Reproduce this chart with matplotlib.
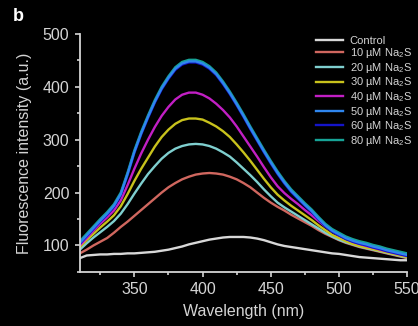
import matplotlib
matplotlib.use("Agg")
import matplotlib.pyplot as plt
from matplotlib.ticker import MultipleLocator

plt.rcParams['font.family'] = ['Liberation Sans', 'DejaVu Sans']
plt.rcParams['mathtext.fontset'] = 'custom'
plt.rcParams['mathtext.rm'] = 'Liberation Sans'
plt.rcParams['mathtext.it'] = 'Liberation Sans'

# 310 .. 550 nm in 5 nm steps
wavelength = list(range(310, 551, 5))

control = [76, 81, 82, 83, 83, 84, 84, 85, 85, 86, 87, 88, 90, 92, 95, 98, 102,
           105, 108, 111, 113, 115, 116, 116, 116, 115, 113, 110, 106, 102, 99,
           97, 95, 93, 91, 89, 87, 85, 84, 82, 80, 78, 77, 76, 75, 74, 73, 72, 72]
na2s_10 = [85, 92, 100, 107, 114, 124, 135, 145, 156, 167, 178, 189, 200, 210,
           218, 225, 230, 234, 236, 237, 236, 234, 230, 225, 218, 210, 200, 190,
           181, 173, 166, 158, 151, 144, 137, 129, 122, 116, 110, 105, 101, 97,
           94, 91, 88, 85, 82, 79, 76]
na2s_20 = [92, 104, 115, 125, 135, 146, 160, 178, 198, 217, 235, 250, 264, 275,
           283, 288, 291, 292, 291, 288, 283, 276, 268, 257, 245, 233, 220, 206,
           193, 181, 172, 164, 156, 148, 140, 132, 124, 117, 111, 106, 102, 98,
           95, 92, 89, 86, 83, 80, 77]
na2s_30 = [97, 110, 122, 134, 145, 157, 174, 197, 222, 245, 266, 287, 305, 319,
           330, 337, 340, 340, 338, 332, 325, 316, 305, 291, 276, 260, 243, 226,
           210, 196, 185, 175, 166, 157, 148, 138, 129, 120, 114, 108, 103, 99,
           96, 93, 90, 87, 84, 81, 78]
na2s_40 = [100, 114, 128, 141, 153, 166, 185, 214, 245, 274, 300, 324, 345, 362,
           376, 385, 389, 389, 385, 378, 368, 356, 342, 325, 306, 287, 268, 248,
           229, 212, 199, 188, 178, 167, 157, 146, 136, 127, 119, 113, 107, 103,
           99, 96, 92, 89, 86, 83, 80]
na2s_50 = [105, 119, 133, 147, 160, 175, 197, 235, 277, 312, 343, 372, 397, 417,
           434, 444, 448, 448, 444, 436, 424, 407, 388, 367, 345, 322, 300, 278,
           257, 237, 219, 203, 190, 177, 165, 151, 138, 128, 121, 114, 109, 105,
           102, 98, 95, 91, 88, 85, 82]
na2s_60 = [103, 117, 131, 145, 158, 173, 195, 233, 275, 310, 341, 370, 395, 415,
           432, 442, 446, 446, 442, 434, 422, 405, 386, 365, 343, 320, 298, 276,
           255, 235, 217, 201, 188, 175, 163, 149, 136, 126, 119, 112, 107, 103,
           100, 96, 93, 89, 86, 83, 80]
na2s_80 = [108, 122, 136, 150, 163, 178, 200, 238, 280, 315, 346, 375, 400, 420,
           437, 447, 451, 451, 447, 439, 427, 410, 391, 370, 348, 325, 303, 281,
           260, 240, 222, 206, 193, 180, 168, 154, 141, 131, 124, 117, 112, 108,
           105, 101, 98, 94, 91, 88, 85]

series = [("Control", control, "#d8d8d8"),
          (r"10 µM Na$_2$S", na2s_10, "#d0675f"),
          (r"20 µM Na$_2$S", na2s_20, "#7fcfcf"),
          (r"30 µM Na$_2$S", na2s_30, "#c8c21c"),
          (r"40 µM Na$_2$S", na2s_40, "#c21fc4"),
          (r"50 µM Na$_2$S", na2s_50, "#2f86ee"),
          (r"60 µM Na$_2$S", na2s_60, "#1414c8"),
          (r"80 µM Na$_2$S", na2s_80, "#17a396")]

fg = "#d4d4d4"
fig = plt.figure(figsize=(4.18, 3.26), dpi=100, facecolor="black")
ax = fig.add_axes([0.191, 0.166, 0.783, 0.730], facecolor="black")

# 80 drawn first (outer teal edge), then 60 and 50 over it
order = [0, 1, 2, 3, 4, 7, 6, 5]
lines = {}
for i in order:
    label, vals, color = series[i]
    lines[i], = ax.plot(wavelength, vals, color=color, lw=1.7, label=label)

leg = ax.legend([lines[i] for i in range(8)], [s[0] for s in series],
                loc="upper right", bbox_to_anchor=(1.035, 1.02), frameon=False,
                fontsize=8, handlelength=2.4, handletextpad=0.6,
                labelspacing=0.05, borderaxespad=0.2)
for t in leg.get_texts():
    t.set_color(fg)

ax.set_xlim(310, 550)
ax.set_ylim(50, 500)
ax.xaxis.set_major_locator(MultipleLocator(50))
ax.xaxis.set_minor_locator(MultipleLocator(25))
ax.yaxis.set_major_locator(MultipleLocator(100))
ax.yaxis.set_minor_locator(MultipleLocator(50))

for side in ["top", "right"]:
    ax.spines[side].set_visible(False)
for side in ["left", "bottom"]:
    ax.spines[side].set_color(fg)
    ax.spines[side].set_linewidth(1.3)
ax.tick_params(which="both", colors=fg, direction="out", width=1.2)
ax.tick_params(which="major", length=3.5, labelsize=11.5, pad=4)
ax.tick_params(which="minor", length=2)

ax.set_xlabel("Wavelength (nm)", color=fg, fontsize=11.5, labelpad=5)
ax.set_ylabel("Fluorescence intensity (a.u.)", color=fg, fontsize=11.5, labelpad=8)
fig.text(0.03, 0.935, "b", color="white", fontsize=13, fontweight="bold")

fig.savefig("out.png", dpi=100, facecolor="black")
